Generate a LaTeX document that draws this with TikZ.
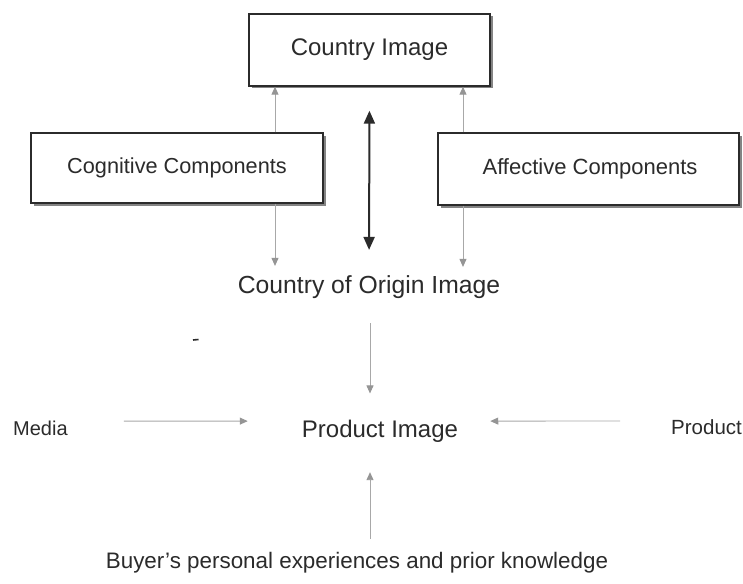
\documentclass[tikz,border=0pt]{standalone}
\usepackage{fontspec}
\setmainfont{Liberation Sans}
\usetikzlibrary{arrows.meta,shadows}
\definecolor{ink}{HTML}{2B2B2B}
\definecolor{faint}{HTML}{A8A8A8}
\definecolor{headgray}{HTML}{959595}
\begin{document}
\begin{tikzpicture}[x=1pt,y=-1pt,
  every node/.style={text=ink},
  compbox/.style={draw=ink, line width=1.4pt, fill=white, inner sep=0pt,
    drop shadow={shadow xshift=2.5pt, shadow yshift=-2.5pt, fill=black!60, opacity=0.8}},
  label/.style={inner sep=0pt},
  garr/.style={draw=faint, line width=0.9pt, -{Triangle[length=8pt,width=7pt,color=headgray,fill=headgray]}},
  barr/.style={draw=ink, line width=2pt, {Triangle[length=13pt,width=11pt]}-{Triangle[length=13pt,width=11pt]}}
]
\fill[white] (0,0) rectangle (743,583);
\useasboundingbox (0,0) rectangle (743,583);

% boxes
\node[compbox, minimum width=241pt, minimum height=72pt,
      font=\fontsize{24}{28}\selectfont] (ci) at (369.5,50) {Country Image};
\node[compbox, minimum width=292pt, minimum height=70pt,
      font=\fontsize{21.7}{26}\selectfont] (cog) at (177,168) {Cognitive Components};
\node[compbox, minimum width=301pt, minimum height=72pt,
      font=\fontsize{22}{26}\selectfont] (aff) at (588.5,169) {\hspace*{3pt}Affective Components};

% free-standing labels (placed by baseline)
\node[label, anchor=base, font=\fontsize{24.7}{29}\selectfont] (coo) at (369,293) {Country of Origin Image};
\node[label, anchor=base, font=\fontsize{24}{28}\selectfont] (pi) at (380,437) {Product Image};
\node[label, anchor=base west, font=\fontsize{20}{24}\selectfont] (media) at (13,435) {Media};
\node[label, anchor=base west, font=\fontsize{20.5}{24}\selectfont] (prod) at (671,434) {Product};
\node[label, anchor=base, font=\fontsize{22.4}{27}\selectfont] (buyer) at (357,568) {Buyer's personal experiences and prior knowledge};

% components feed the country image
\draw[garr] ([xshift=98pt]cog.north) -- ([xshift=-94.5pt]ci.south);
\draw[garr] ([xshift=-125.5pt]aff.north) -- ([xshift=93.5pt]ci.south);

% components feed the country of origin image
\draw[garr, shorten >=9pt] ([xshift=98pt]cog.south) -- ([xshift=-94pt]coo.north);
\draw[garr, shorten >=8pt] ([xshift=-125.5pt]aff.south) -- ([xshift=94pt]coo.north);

% two-way link between country image and country of origin image
\draw[barr, shorten <=24pt, shorten >=25pt] (ci.south) -- (coo.north);

% influences on the product image
\draw[garr, shorten <=25pt, shorten >=26pt] ([xshift=1pt]coo.south) -- ([xshift=-10pt]pi.north);
\draw[garr, shorten <=56pt, shorten >=54pt] ([yshift=6.7pt]media.east) -- ([yshift=9.7pt]pi.west);
\draw[garr, shorten <=51pt, shorten >=32pt] ([yshift=5.7pt]prod.west) -- ([yshift=9.7pt]pi.east);
\draw[garr, shorten <=13pt, shorten >=30pt] ([xshift=13pt]buyer.north) -- ([xshift=-10pt]pi.south);

% small stray mark
\draw[ink, line width=1.6pt] (193,340) -- (198.5,339.5);
\end{tikzpicture}
\end{document}
